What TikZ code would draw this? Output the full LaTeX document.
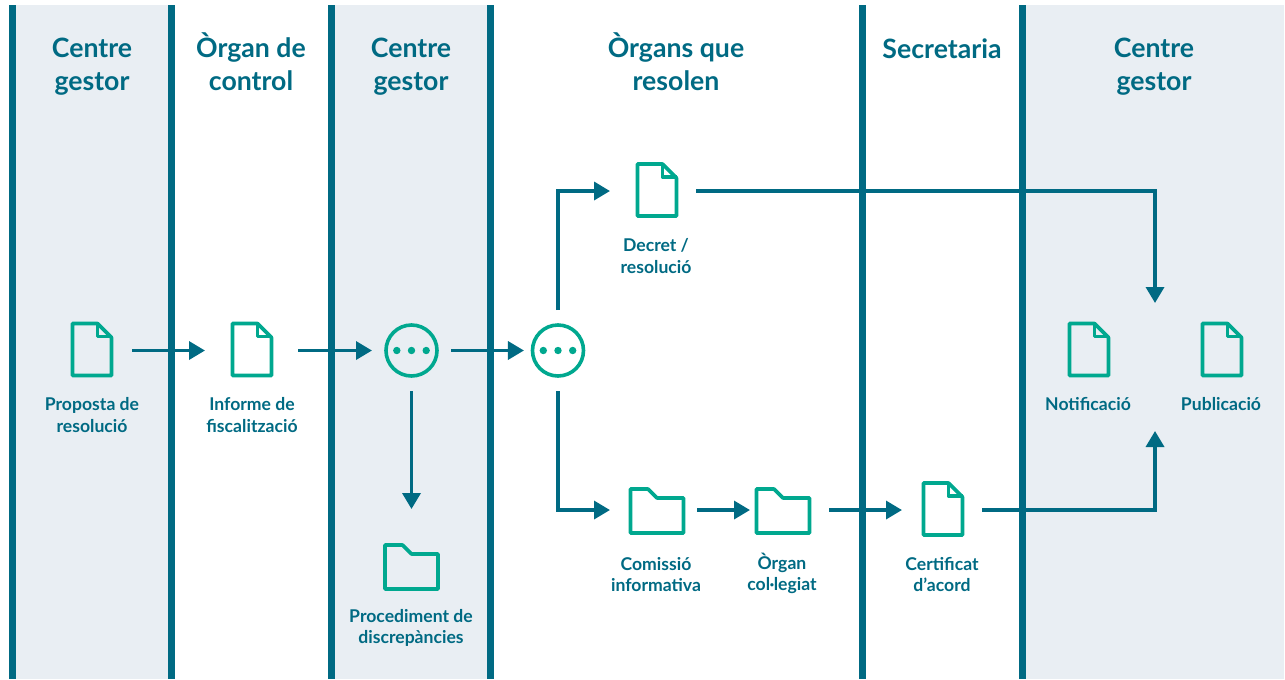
\documentclass[tikz,border=0pt]{standalone}
\usepackage{fontspec}
\setmainfont{Lato}
\usetikzlibrary{arrows.meta}
\definecolor{barblue}{HTML}{006A83}
\definecolor{bandgrey}{HTML}{E9EEF3}
\definecolor{icongreen}{HTML}{00A88F}
\tikzset{
	heading/.style={align=center,text=barblue,font=\fontsize{20}{24.75}\selectfont\bfseries},
	caption/.style={align=center,text=barblue,font=\fontsize{13.2}{16}\selectfont\bfseries},
	flow/.style={->,draw=barblue,line width=2.6pt},
	icon/.style={draw=icongreen,line width=2.7pt,line join=round},
	docbox/.style={minimum width=31.5pt,minimum height=40.5pt,inner sep=0pt,outer sep=0pt},
	folderbox/.style={minimum width=42pt,minimum height=33pt,inner sep=0pt,outer sep=0pt},
	dotscircle/.style={circle,icon,minimum size=38.25pt,inner sep=0pt,outer sep=0pt},
	docicon/.pic={
		\draw[icon] (-19.5,-27) -- (5.5,-27) -- (19.5,-13) -- (19.5,25) -- (-19.5,25) -- cycle;
		\draw[icon] (5.5,-27) -- (5.5,-14) -- (19.5,-14);
	},
	foldericon/.pic={
		\draw[icon] (-26.5,-21) -- (-9,-21) -- (0,-12) -- (26.5,-12) -- (26.5,23) -- (-26.5,23) -- cycle;
	},
	threedots/.pic={
		\foreach \dx in {-14.7,0,14.7} \fill[icongreen] (\dx,0) circle [radius=3.7];
	},
}
\begin{document}
\begin{tikzpicture}[x=0.75pt,y=-0.75pt,>={Triangle[length=12pt,width=13.5pt]}]
	\useasboundingbox (0,0) rectangle (1285,679);
	% columns
	\fill[bandgrey] (16,5) rectangle (168,679);
	\fill[bandgrey] (335,5) rectangle (487,679);
	\fill[bandgrey] (1026,5) rectangle (1284,679);
	\foreach \xbar in {9,168,328,487,859,1019}
		\fill[barblue] (\xbar,5) rectangle (\xbar+7,679);
	% headings
	\node[heading] (headA) at (92,67) {Centre\\gestor};
	\node[heading] (headB) at (251,62) {Òrgan de\\control};
	\node[heading] (headC) at (411,67) {Centre\\gestor};
	\node[heading] (headD) at (676,62) {Òrgans que\\resolen};
	\node[heading] (headE) at (942,48.5) {Secretaria};
	\node[heading] (headF) at (1154,67) {Centre\\gestor};
	% documents
	\foreach \name/\x/\y in {prop/92/350.5,informe/252/350.5,decret/657/191,notif/1089/350.5,pub/1222/350.5,certif/943/510} {
		\node[docbox] (\name) at (\x,\y) {};
		\pic at (\name) {docicon};
	}
	% folders
	\foreach \name/\x/\y in {proced/411.5/566,comissio/657/510,organ/783/510} {
		\node[folderbox] (\name) at (\x,\y) {};
		\pic at (\name) {foldericon};
	}
	% circles
	\foreach \name/\x in {circA/411.5,circB/558} {
		\node[dotscircle] (\name) at (\x,350.5) {};
		\pic at (\name) {threedots};
	}
	\coordinate (inTop) at (1155,303);
	\coordinate (inBottom) at (1155,431);
	% captions
	\node[caption] (capProp) at (92,415) {Proposta de\\resolució};
	\node[caption] (capInforme) at (252,415) {Informe de\\fiscalització};
	\node[caption] (capProced) at (411,628) {Procediment de\\discrepàncies};
	\node[caption] (capDecret) at (656,256) {Decret /\\resolució};
	\node[caption] (capComissio) at (656,574.5) {Comissió\\informativa};
	\node[caption] (capOrgan) at (782,573.5) {Òrgan\\col·legiat};
	\node[caption] (capCertif) at (942,574.5) {Certificat\\d’acord};
	\node[caption] (capNotif) at (1088,404) {Notificació};
	\node[caption] (capPub) at (1221,404) {Publicació};
	% connectors
	\draw[flow,shorten <=14.25pt,shorten >=19.5pt] (prop) -- (informe);
	\draw[flow,shorten <=18.75pt,shorten >=10.5pt] (informe) -- (circA);
	\draw[flow,shorten <=10.5pt,shorten >=6.4pt] (circA) -- (circB);
	\draw[flow,shorten <=11.25pt,shorten >=26.25pt] (circA) -- (proced);
	\draw[flow,shorten <=11.25pt,shorten >=19.5pt] (circB) |- (decret);
	\draw[flow,shorten <=11.25pt,shorten >=14.25pt] (circB) |- (comissio);
	\draw[flow,shorten <=9pt,shorten >=3.75pt] (comissio) -- (organ);
	\draw[flow,shorten <=13.5pt,shorten >=15pt] (organ) -- (certif);
	\draw[flow,shorten <=13.5pt] (decret) -| (inTop);
	\draw[flow,shorten <=13.5pt] (certif) -| (inBottom);
\end{tikzpicture}
\end{document}
